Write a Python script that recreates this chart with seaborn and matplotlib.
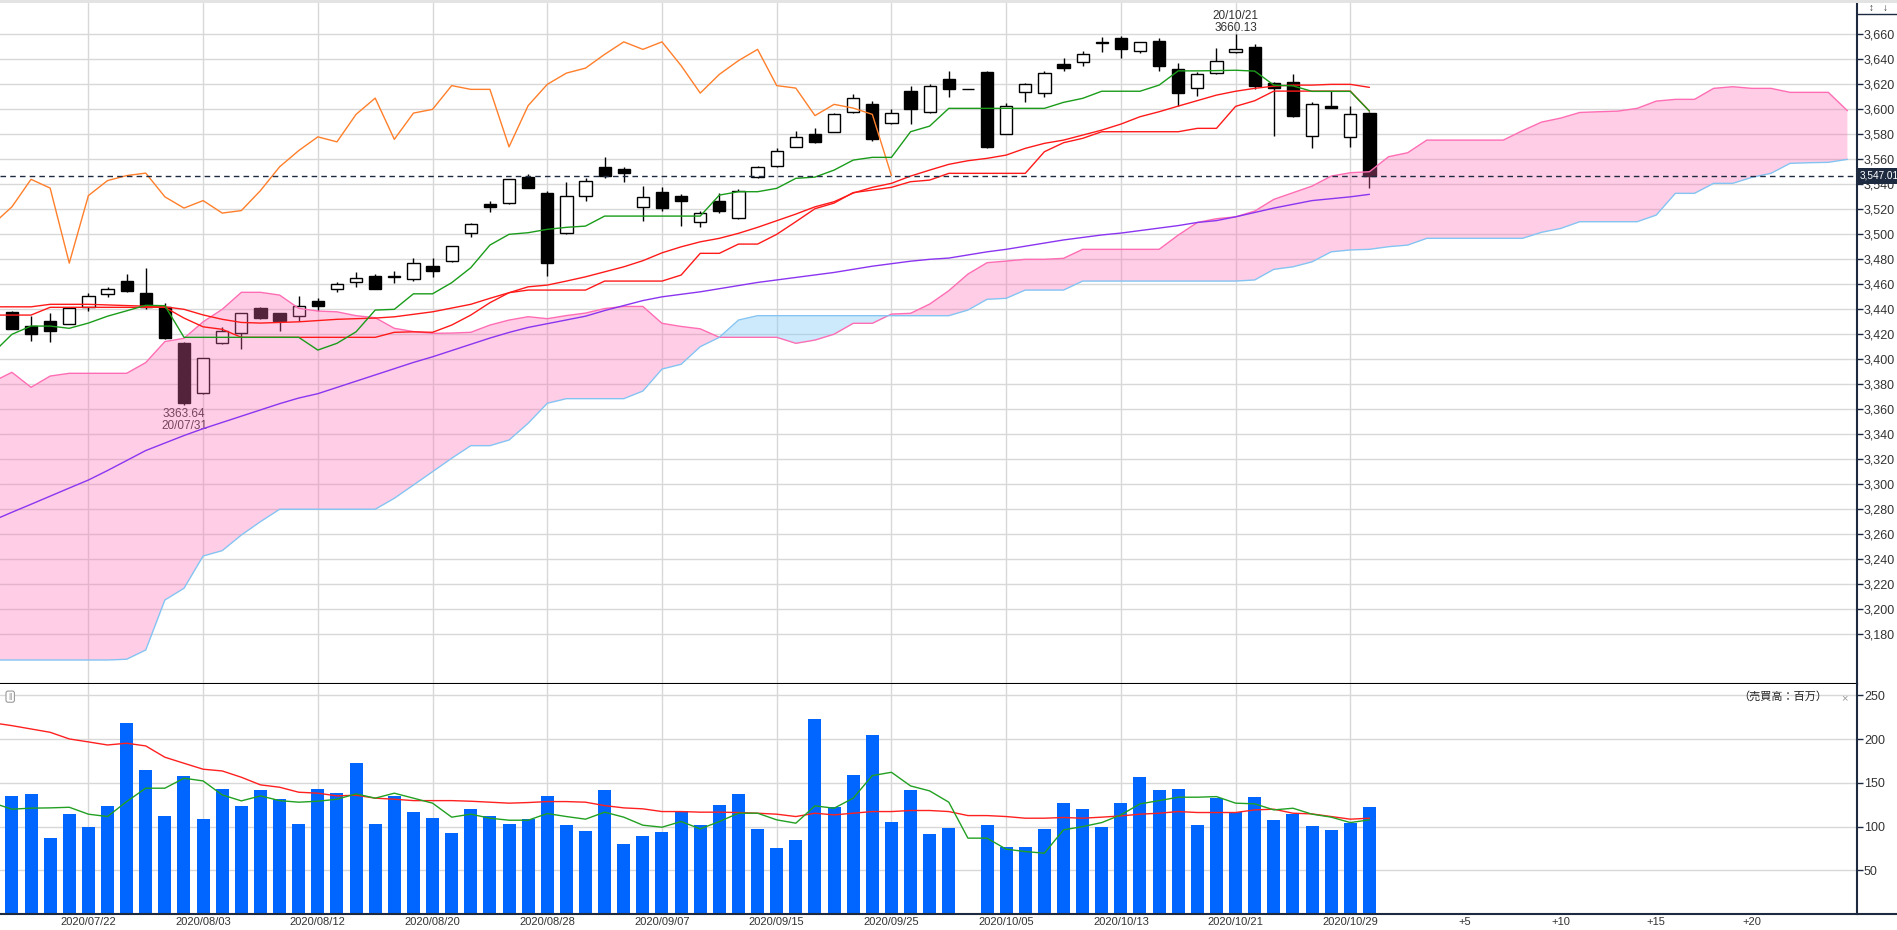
import numpy as np
import seaborn as sns
import matplotlib.pyplot as plt
import matplotlib.transforms as mtransforms
from matplotlib.lines import Line2D
from matplotlib.patches import Rectangle

# 1. daily bars 2020/07/16 .. 2020/10/30 (bar 0 = 2020/07/22)
first_bar = -4
opens = [3437.6, 3427, 3431, 3428, 3442, 3452, 3463, 3453, 3442, 3413,
         3373, 3413, 3421, 3441, 3437, 3435, 3447, 3456, 3462, 3467,
         3466, 3464, 3475, 3479, 3501, 3524, 3525, 3546, 3533, 3501,
         3531, 3554, 3552, 3522, 3534, 3531, 3510, 3527, 3513, 3546,
         3555, 3570, 3580, 3582, 3598, 3604, 3589, 3615, 3598, 3624,
         3616, 3630, 3580, 3614, 3613, 3636, 3638, 3653, 3657, 3647,
         3655, 3632, 3617, 3629, 3646, 3650, 3621, 3622, 3579, 3603,
         3578, 3597]
highs = [3439, 3435, 3437, 3441, 3453, 3458, 3468, 3473, 3445, 3414,
         3401, 3426, 3437, 3442, 3437, 3451, 3449, 3462, 3470, 3468,
         3471, 3481, 3481, 3491, 3509, 3527, 3544, 3548, 3535, 3542,
         3545, 3562, 3554, 3539, 3538, 3532, 3519, 3533, 3536, 3555,
         3569, 3583, 3585, 3597, 3612, 3607, 3600, 3619, 3620, 3631,
         3616, 3631, 3605, 3621, 3631, 3641, 3647, 3658, 3659, 3654,
         3657, 3637, 3630, 3649, 3660.13, 3652, 3622, 3628, 3606, 3615,
         3603, 3598]
lows = [3424, 3415, 3414, 3428, 3439, 3450, 3454, 3440, 3416, 3363.64,
        3372, 3412, 3408, 3432, 3423, 3431, 3439, 3454, 3458, 3456,
        3461, 3463, 3466, 3478, 3498, 3518, 3524, 3537, 3467, 3500,
        3527, 3545, 3542, 3511, 3519, 3507, 3506, 3517, 3512, 3545,
        3554, 3570, 3573, 3582, 3597, 3575, 3588, 3588, 3597, 3610,
        3616, 3569, 3580, 3606, 3610, 3631, 3635, 3646, 3641, 3645,
        3631, 3603, 3611, 3628, 3645, 3616, 3579, 3594, 3569, 3601,
        3570, 3537]
closes = [3424.5, 3420, 3423, 3441, 3451, 3456, 3455, 3442, 3417, 3365,
          3401, 3423, 3437, 3433, 3431, 3443, 3443, 3460, 3465, 3456,
          3467, 3477, 3471, 3491, 3508, 3522, 3544, 3537, 3477, 3531,
          3543, 3547, 3549, 3530, 3521, 3527, 3517, 3519, 3535, 3554,
          3567, 3578, 3574, 3596, 3609, 3576, 3597, 3600, 3619, 3616,
          3616, 3570, 3603, 3620, 3629, 3633, 3644, 3654, 3648, 3654,
          3635, 3613, 3628, 3639, 3648, 3619, 3617, 3595, 3604, 3601,
          3596, 3547.01]

# 2. indicator lines, starting one bar earlier (bar -5, left of the frame)
first_line = -5
tenkan = [3405, 3420, 3426.6, 3426.6, 3424.8, 3429, 3434.5, 3438.8, 3443.2, 3442.9, 3417.6,
          3417.6, 3417.6, 3417.6, 3417.6, 3417.6, 3417.6, 3407.4, 3412.8, 3422, 3439.4,
          3440, 3452.4, 3452.4, 3461.3, 3473.3, 3491.4, 3500, 3501.3, 3504, 3505.6,
          3506.6, 3514.6, 3514.6, 3514.6, 3514.6, 3514.6, 3514.6, 3531.4, 3534.1, 3534.1,
          3536.8, 3544.8, 3545.8, 3551.4, 3559.4, 3561.6, 3561.6, 3582.1, 3586.6, 3600.8,
          3600.8, 3600.8, 3600.8, 3600.8, 3600.8, 3605.6, 3608.8, 3614.5, 3614.5, 3614.5,
          3619.4, 3630.8, 3630.8, 3631, 3631.3, 3630.6, 3619.4, 3618.8, 3614.4, 3614.4,
          3614.4, 3598.6]
kijun = [3435.4, 3435.4, 3435.4, 3441.6, 3441.6, 3441.6, 3441.6, 3441.6, 3441.6, 3441.6, 3433,
         3426, 3424, 3417.6, 3417.6, 3417.6, 3417.6, 3417.6, 3417.6, 3417.6, 3417.6,
         3421.6, 3422, 3421.6, 3427.4, 3435.4, 3445.3, 3453.3, 3455.4, 3455.4, 3455.4,
         3455.4, 3462.6, 3462.6, 3462.6, 3462.6, 3467.4, 3484.8, 3484.8, 3492.2, 3492.2,
         3500, 3510.1, 3520.5, 3525, 3533.4, 3535.4, 3537.6, 3542.1, 3543.4, 3548.8,
         3548.8, 3548.8, 3548.8, 3548.8, 3566.1, 3573.3, 3576.8, 3582.1, 3582.1, 3582.1,
         3582.1, 3582.1, 3584.8, 3584.8, 3602.4, 3606.9, 3614.6, 3614.6, 3614.6, 3614.6,
         3614.6, 3598.6]
ma25 = [3442, 3442, 3442, 3444, 3444, 3444, 3443.5, 3443, 3442.5, 3442, 3440,
        3435.5, 3432, 3429.5, 3429, 3429.5, 3430, 3431, 3432, 3432.5, 3433,
        3434, 3436, 3438, 3441, 3444, 3448.8, 3453.3, 3458, 3459.4, 3462.6,
        3466, 3470, 3474, 3478.9, 3485.2, 3490, 3494, 3496.8, 3500.8, 3505.6,
        3510.9, 3516.2, 3522, 3526.1, 3533, 3537.6, 3540.8, 3546.6, 3551.4, 3556,
        3558.9, 3560.8, 3563.4, 3568.8, 3572.8, 3575.4, 3579.4, 3583.4, 3588.2, 3594.1,
        3598.1, 3602.6, 3607, 3611.4, 3614.5, 3616.8, 3618.6, 3619.4, 3619.4, 3620,
        3620, 3617.6]
ma75 = [3271, 3277.6, 3284, 3290.5, 3297, 3303.4, 3311, 3319, 3327, 3333, 3339,
        3344.5, 3349.5, 3354.5, 3359.5, 3364.5, 3369, 3372.5, 3377.5, 3382.5, 3387.5,
        3392.5, 3397.5, 3402, 3407, 3412, 3417, 3421.5, 3425.5, 3428.5, 3431.5,
        3434.5, 3439, 3443, 3447, 3450, 3452, 3454, 3456.5, 3459, 3461.5,
        3463.5, 3465.5, 3467.5, 3469.5, 3472, 3474.5, 3476.5, 3478.5, 3480, 3481,
        3483.5, 3486, 3488, 3490.5, 3493, 3495.5, 3497.5, 3499.5, 3501, 3503,
        3505, 3507, 3509.5, 3511, 3514, 3517.5, 3521, 3524, 3527, 3528.5,
        3530, 3532]

# 3. cloud spans, bar -5 .. bar 92 (shifted ahead)
span_a = [3382.0, 3389.6, 3377.6, 3386.6, 3388.8, 3388.8, 3388.8, 3388.8, 3397.4, 3414.2, 3416.8,
          3430.0, 3440.0, 3453.6, 3453.6, 3451.4, 3440.8, 3438.6, 3438.0, 3434.9, 3433.3,
          3424.8, 3422.2, 3420.8, 3421.0, 3421.6, 3427.4, 3431.4, 3434.1, 3432.5, 3435.0,
          3437.0, 3440.6, 3442.3, 3442.3, 3428.8, 3426.3, 3424.4, 3417.6, 3417.6, 3417.6,
          3417.6, 3412.8, 3415.4, 3420.1, 3428.8, 3428.8, 3436.2, 3436.8, 3444.2, 3454.9,
          3468.2, 3477.3, 3478.6, 3480.0, 3480.0, 3480.8, 3488.0, 3488.0, 3488.0, 3488.0,
          3488.0, 3499.4, 3509.5, 3512.5, 3514.0, 3518.6, 3528.0, 3533.3, 3538.6, 3546.6,
          3549.3, 3550.1, 3562.1, 3565.3, 3575.4, 3575.4, 3575.4, 3575.4, 3575.4, 3582.9,
          3589.8, 3593.0, 3597.5, 3598.1, 3598.6, 3600.8, 3606.6, 3608.0, 3608.0, 3616.8,
          3618.1, 3616.8, 3616.8, 3613.6, 3613.6, 3613.6, 3598.9]
span_b = [3159.4, 3159.4, 3159.4, 3159.4, 3159.4, 3159.4, 3159.4, 3160.0, 3167.4, 3207.4, 3216.8,
          3242.6, 3246.9, 3259.4, 3270.1, 3280.0, 3280.0, 3280.0, 3280.0, 3280.0, 3280.0,
          3288.8, 3299.4, 3310.1, 3320.8, 3330.9, 3330.9, 3335.4, 3348.8, 3364.8, 3368.5,
          3368.5, 3368.5, 3368.5, 3374.6, 3392.2, 3396.0, 3410.1, 3417.6, 3431.4, 3434.9,
          3434.9, 3434.9, 3434.9, 3434.9, 3434.9, 3434.9, 3434.9, 3434.9, 3434.9, 3434.9,
          3439.4, 3448.0, 3448.8, 3455.4, 3455.4, 3455.4, 3462.6, 3462.6, 3462.6, 3462.6,
          3462.6, 3462.6, 3462.6, 3462.6, 3462.6, 3463.5, 3472.0, 3474.0, 3478.0, 3486.0,
          3487.5, 3488.0, 3490.1, 3491.4, 3496.8, 3496.8, 3496.8, 3496.8, 3496.8, 3496.8,
          3501.6, 3504.7, 3510.1, 3510.1, 3510.1, 3510.1, 3515.4, 3532.8, 3532.8, 3540.8,
          3540.8, 3545.6, 3548.8, 3556.8, 3557.3, 3557.6, 3560.0]

# 4. turnover (millions), 10/01 had no trading
volume = [135, 137.3, 87, 114.4, 99.6, 123.6, 218.4, 164.7, 112.1, 157.8,
          108.8, 143, 123.6, 141.8, 131.5, 103, 143, 138.4, 172.7, 103,
          135, 116.7, 109.8, 92.7, 120.2, 112.1, 103, 108.8, 135, 102,
          95, 141.8, 80.2, 89.3, 93.9, 117.9, 101.5, 124.7, 137.3, 97.3,
          75.6, 84.7, 222.9, 122.4, 159, 204.7, 105.3, 141.8, 91.6, 98.4,
          np.nan, 101.7, 76.6, 76.6, 97.3, 127, 120.2, 99.6, 127, 156.7,
          141.8, 143, 101.7, 132.7, 116.7, 133.9, 107.6, 114.4, 100.7, 96.2,
          104.2, 122.4]
vol_ma5 = [127, 119.8, 121, 121.3, 122, 114.1, 111.4, 128.5, 143.8, 143.8, 155.2,
           152.1, 136.1, 129.3, 135, 129.6, 127.8, 128.9, 131.2, 137.3, 132.4,
           138.1, 132.4, 126.7, 110.7, 114.1, 109.5, 107.2, 107.2, 114.8, 111.4,
           108.4, 116.4, 110.7, 101.5, 99.2, 105.7, 97.3, 105.7, 115.2, 115.2,
           107.6, 103.8, 123.6, 120.9, 132.4, 158.2, 162, 146.4, 140.7, 127.8,
           86.7, 86.7, 74.1, 71.4, 69.5, 96.2, 99.9, 104.5, 113.3, 125.9,
           129.6, 133.5, 133.5, 134.2, 126.7, 125.9, 119, 120.9, 114.1, 110.7,
           104.5, 107.6]
vol_ma25 = [218.5, 215.3, 211.5, 207.7, 200.1, 196.7, 193.2, 195.2, 192.1, 179.2, 172.3,
            165.5, 163.5, 156.3, 147.6, 144.9, 139.2, 138.1, 135, 135.8, 132.4,
            131.2, 129.6, 129.6, 129.6, 128.9, 127.8, 126.7, 127.4, 128.5, 128.5,
            127.8, 123.9, 121.3, 120.2, 117.1, 117.1, 116.4, 116.4, 116, 115.2,
            114.1, 111.4, 115.2, 113.3, 115.2, 117.1, 117.1, 118.3, 118.3, 117.1,
            112.5, 112.5, 111.4, 109.5, 109.5, 110.3, 109.5, 110.7, 112.1, 114.1,
            115.2, 117.1, 116, 116, 116, 119, 119.8, 115.2, 114.4, 111.4,
            108.4, 109.5]

# 5. axis labels
date_labels = ["2020/07/22", "2020/08/03", "2020/08/12", "2020/08/20", "2020/08/28", "2020/09/07",
               "2020/09/15", "2020/09/25", "2020/10/05", "2020/10/13", "2020/10/21", "2020/10/29"]
future_labels = ["+5", "+10", "+15", "+20"]
price_ticks = list(range(3180, 3661, 20))
volume_ticks = [50, 100, 150, 200, 250]

# ---------------------------------------------------------------
o, h, l, c = (np.array(v, dtype=float) for v in (opens, highs, lows, closes))
bar_x = np.arange(first_bar, first_bar + len(c))
line_x = np.arange(first_line, first_line + len(tenkan))
cloud_x = np.arange(first_line, first_line + len(span_a))
sa, sb = np.array(span_a), np.array(span_b)
label_step = 6
date_pos = [k * label_step for k in range(len(date_labels))]
future_pos = [bar_x[-1] + 5 * (k + 1) for k in range(len(future_labels))]

sns.set_theme(style="white")
plt.rcParams['font.family'] = ['Liberation Sans', 'Noto Sans CJK JP', 'DejaVu Sans']

W, H = 1897, 930
navy = "#1e2a40"
fig = plt.figure(figsize=(W / 100, H / 100), dpi=100)
ax = fig.add_axes([0, 1 - 684 / H, 1857 / W, 681 / H])
axv = fig.add_axes([0, 1 - 914 / H, 1857 / W, 230 / H], sharex=ax)

# candles
up = c >= o
ax.vlines(bar_x, l, h, color="black", lw=1, zorder=2)
body_lo = np.minimum(o, c)
body_h = np.abs(c - o)
ax.bar(bar_x[up], body_h[up], bottom=body_lo[up], width=0.64, facecolor="white",
       edgecolor="black", lw=1, zorder=2.5)
ax.bar(bar_x[~up], body_h[~up], bottom=body_lo[~up], width=0.64, facecolor="black",
       edgecolor="black", lw=1, zorder=2.5)

# annotations of low / high (under the cloud)
k_lo, k_hi = int(np.argmin(l)), int(np.argmax(h))
ax.annotate(f"{l[k_lo]:.2f}\n20/07/31", xy=(bar_x[k_lo], l[k_lo]), xytext=(0, -2.5),
            textcoords="offset points", ha="center", va="top", fontsize=8.5,
            color="#333333", linespacing=0.95, zorder=2)
ax.annotate(f"20/10/21\n{h[k_hi]:.2f}", xy=(bar_x[k_hi], h[k_hi]), xytext=(0, 0.5),
            textcoords="offset points", ha="center", va="bottom", fontsize=8.5,
            color="#333333", linespacing=0.95, zorder=2)

# cloud
ax.fill_between(cloud_x, sa, sb, where=sa >= sb, interpolate=True, color="#ff69b4",
                alpha=0.33, lw=0, zorder=3)
ax.fill_between(cloud_x, sa, sb, where=sa < sb, interpolate=True, color="#87cefa",
                alpha=0.42, lw=0, zorder=3)
sns.lineplot(x=cloud_x, y=sa, ax=ax, color="#ff6eb4", lw=1, zorder=3.5, estimator=None, legend=False)
sns.lineplot(x=cloud_x, y=sb, ax=ax, color="#84c4f2", lw=1, zorder=3.5, estimator=None, legend=False)

# indicator lines (lagging span = closes drawn 25 bars back)
sns.lineplot(x=bar_x[24:] - 25, y=c[24:], ax=ax, color="#ff7f2a", lw=1, zorder=4, estimator=None, legend=False)
sns.lineplot(x=line_x, y=ma75, ax=ax, color="#8b35f0", lw=1, zorder=4, estimator=None, legend=False)
sns.lineplot(x=line_x, y=ma25, ax=ax, color="#ff1a1a", lw=1, zorder=4, estimator=None, legend=False)
sns.lineplot(x=line_x, y=kijun, ax=ax, color="#ff1a1a", lw=1, zorder=4, estimator=None, legend=False)
sns.lineplot(x=line_x, y=tenkan, ax=ax, color="#1a9c1a", lw=1, zorder=4.2, estimator=None, legend=False)

# last price
ax.axhline(c[-1], color=navy, lw=1, ls=(0, (4, 3)), zorder=4.5)
trans = mtransforms.blended_transform_factory(ax.transAxes, ax.transData)
ax.text(1.0012, c[-1], f"{c[-1]:,.2f}", transform=trans, ha="left", va="center",
        fontsize=7.2, color="white", clip_on=False, zorder=10,
        bbox=dict(boxstyle="square,pad=0.3", fc=navy, ec="none"))

# volume
vol = np.array(volume, dtype=float)
ok = ~np.isnan(vol)
axv.bar(bar_x[ok], vol[ok], width=0.68, color="#0066ff", lw=0, zorder=2)
sns.lineplot(x=line_x, y=vol_ma25, ax=axv, color="#ff2020", lw=1, zorder=3, estimator=None, legend=False)
sns.lineplot(x=line_x, y=vol_ma5, ax=axv, color="#22a022", lw=1, zorder=3.2, estimator=None, legend=False)

# axes styling
xl = (-4.623, 92.50)
ax.set_xlim(xl)
ax.set_ylim(3140.2, 3685.1)
axv.set_ylim(0, 262.9)
for a in (ax, axv):
    a.set_xlabel("")
    a.set_ylabel("")
    a.yaxis.tick_right()
    a.grid(True, which="major", color="#d8d8d8", lw=1, zorder=0)
    a.set_axisbelow(True)
    a.tick_params(axis="y", which="both", right=True, left=False, direction="out",
                  length=4, width=1, color=navy, pad=1, labelsize=9, labelcolor="#333333")
    for side in ("left", "top"):
        a.spines[side].set_visible(False)
    a.spines["right"].set_color(navy)
    a.spines["right"].set_linewidth(1.5)

axv.set_xticks(date_pos)
axv.set_xticklabels(date_labels)
axv.set_xticks(future_pos, minor=True)
axv.set_xticklabels(future_labels, minor=True)
ax.tick_params(axis="x", which="both", length=0, labelbottom=False)
axv.tick_params(axis="x", which="both", length=0, pad=2, labelsize=8, labelcolor="#333333")
axv.set_xlim(xl)

ax.set_yticks(price_ticks)
ax.set_yticklabels([f"{v:,}" for v in price_ticks])
axv.set_yticks(volume_ticks)
axv.set_yticklabels([str(v) for v in volume_ticks])

ax.spines["bottom"].set_color("black")
ax.spines["bottom"].set_linewidth(1.5)
axv.spines["bottom"].set_color(navy)
axv.spines["bottom"].set_linewidth(1.5)

# panel decorations
axv.text(0.984, 0.945, "（売買高：百万）", transform=axv.transAxes, ha="right", va="center",
         fontsize=8, color="#222222")
axv.text(0.9935, 0.94, "×", transform=axv.transAxes, ha="center", va="center",
         fontsize=8, color="#999999")
axv.text(0.0055, 0.945, "||", transform=axv.transAxes, ha="center", va="center", fontsize=6,
         color="#777777", bbox=dict(boxstyle="round,pad=0.25", fc="white", ec="#999999", lw=0.8))

fig.add_artist(Rectangle((0, 1 - 3 / H), 1, 3 / H, transform=fig.transFigure,
                         color="#e3e3e3", lw=0))
fig.add_artist(Line2D([1857 / W, 1], [1 - 14.5 / H] * 2, transform=fig.transFigure,
                      color=navy, lw=1))
fig.add_artist(Line2D([1857 / W, 1], [1 - 914 / H] * 2, transform=fig.transFigure,
                      color=navy, lw=1.5))
fig.text(1871.5 / W, 1 - 8 / H, "↕", ha="center", va="center", fontsize=7, color="#333333")
fig.text(1885 / W, 1 - 8 / H, "↓", ha="center", va="center", fontsize=7, color="#333333")

fig.savefig("out.png", dpi=100)
plt.close(fig)
